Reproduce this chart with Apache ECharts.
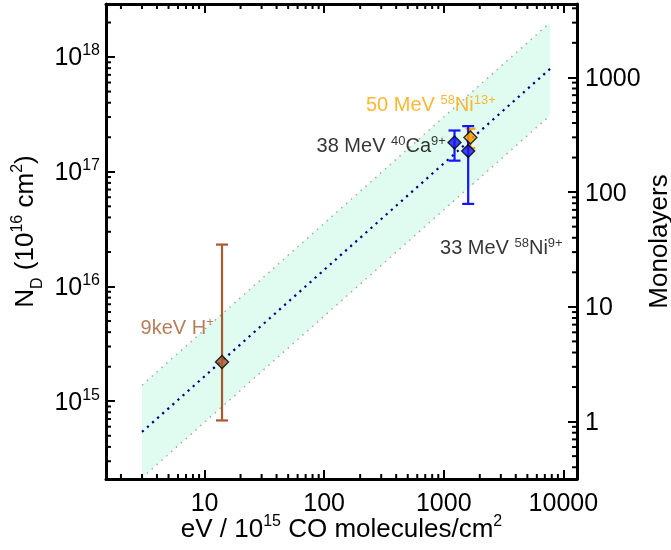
<!DOCTYPE html>
<html><head><meta charset="utf-8">
<script src="https://cdn.jsdelivr.net/npm/echarts@6/dist/echarts.min.js"></script>
<style>html,body{margin:0;padding:0;background:#fff}#c{width:671px;height:550px}</style>
</head><body><div id="c"></div>
<script>
// ---- data ----
const xTickLabels = ['10', '100', '1000', '10000'];
const yTickExponents = [15, 16, 17, 18];
const mlTickLabels = ['1', '10', '100', '1000'];

const fitX = [3, 7750];
const fitY = [5.4e14, 7.9e17];
const bandUpper = [1.38e15, 2.0e18];
const bandLower = [2.15e14, 3.1e17];

const ptName = ['9keV H+', '38 MeV 40Ca9+', '33 MeV 58Ni9+', '50 MeV 58Ni13+'];
const ptX  = [14, 1230, 1600, 1670];
const ptY  = [2.2e15, 1.8e17, 1.52e17, 1.99e17];
const ptLo = [6.8e14, 1.25e17, 5.25e16, 1.61e17];
const ptHi = [2.32e16, 2.29e17, 2.5e17, 2.37e17];

const labelText = ['{b|9keV H}{s|+}', '{b|38 MeV }{s|40}{b|Ca}{s|9+}', '{b|33 MeV }{s|58}{b|Ni}{s|9+}', '{b|50 MeV }{s|58}{b|Ni}{s|13+}'];
const labelAnchorX = [5.9, 300, 3030, 780];
const labelAnchorY = [4.4e15, 1.69e17, 2.18e16, 3.83e17];

// ---- styles ----
const ptColor = ['#a65a2e', '#1414ff', '#1414ff', '#ffa500'];
const labelColor = ['#a65a2e', '#000000', '#000000', '#ffa500'];
const drawOrder = [0, 3, 1, 2];

const X_MIN = 1.5, X_MAX = 13000, Y_MIN = 2.1e14, Y_MAX = 2.9e18, ML_MIN = 0.316, ML_MAX = 4360;
const FONT = '"Liberation Sans", Arial, sans-serif';

function minorVals(min, max) {
  const out = [];
  for (let e = Math.floor(Math.log10(min)) - 1; e <= Math.ceil(Math.log10(max)); e++) {
    for (let k = 2; k <= 9; k++) {
      const v = k * Math.pow(10, e);
      if (v > min * 1.0001 && v < max * 0.9999) out.push(v);
    }
  }
  return out;
}
const isDecade = v => Math.abs(Math.log10(v) - Math.round(Math.log10(v))) < 1e-6;

const richAxis = {
  b: { fontSize: 25, verticalAlign: 'top', padding: [3, 0, 0, 0], fontFamily: FONT, color: '#000' },
  s: { fontSize: 16, verticalAlign: 'top', fontFamily: FONT, color: '#000' }
};
const richTitle = {
  b: { fontSize: 26, verticalAlign: 'top', padding: [3, 0, 0, 0], fontFamily: FONT, color: '#000' },
  n: { fontSize: 26, verticalAlign: 'top', padding: [3, 0, 0, 20], fontFamily: FONT, color: '#000' },
  s: { fontSize: 16, verticalAlign: 'top', fontFamily: FONT, color: '#000' },
  d: { fontSize: 16, verticalAlign: 'top', padding: [20, 0, 0, 0], fontFamily: FONT, color: '#000' }
};

const MINOR = 5, MAJOR = 9, TW = 2;
const tickStyle = { stroke: '#000', lineWidth: TW };

const chart = echarts.init(document.getElementById('c'));

const option = {
  animation: false,
  backgroundColor: '#fff',
  grid: { left: 106, right: 94, top: 4, bottom: 71, outerBoundsMode: 'none' },
  xAxis: [
    {
      type: 'log', logBase: 10, min: X_MIN, max: X_MAX, position: 'bottom',
      axisLine: { show: true, lineStyle: { color: '#000', width: 3 } },
      axisTick: { show: true, inside: true, length: MAJOR, lineStyle: { color: '#000', width: TW } },
      splitLine: { show: false },
      axisLabel: {
        margin: 10, showMinLabel: false, showMaxLabel: false, color: '#000',
        formatter: v => isDecade(v) ? '{b|' + xTickLabels[Math.round(Math.log10(v)) - 1] + '}' : '',
        rich: richAxis
      },
      name: '{b|eV / 10}{s|15}{b| CO molecules/cm}{s|2}',
      nameLocation: 'middle', nameGap: 35, nameMoveOverlap: false,
      nameTextStyle: { rich: richTitle, color: '#000' }
    },
    {
      type: 'log', logBase: 10, min: X_MIN, max: X_MAX, position: 'top',
      axisLine: { show: true, lineStyle: { color: '#000', width: 3 } },
      axisTick: { show: true, inside: true, length: MAJOR, lineStyle: { color: '#000', width: TW } },
      splitLine: { show: false }, axisLabel: { show: false }
    }
  ],
  yAxis: [
    {
      type: 'log', logBase: 10, min: Y_MIN, max: Y_MAX, position: 'left',
      axisLine: { show: true, lineStyle: { color: '#000', width: 3 } },
      axisTick: { show: true, inside: true, length: MAJOR, lineStyle: { color: '#000', width: TW } },
      splitLine: { show: false },
      axisLabel: {
        margin: 6, showMinLabel: false, showMaxLabel: false, color: '#000',
        formatter: v => {
          if (!isDecade(v)) return '';
          const e = Math.round(Math.log10(v));
          return yTickExponents.indexOf(e) >= 0 ? '{b|10}{s|' + e + '}' : '';
        },
        rich: richAxis
      },
      name: '{n|N}{d|D}{b| (10}{s|16}{b| cm}{s|2}{b|)}',
      nameLocation: 'middle', nameRotate: 90, nameGap: 60, nameMoveOverlap: false,
      nameTextStyle: { rich: richTitle, color: '#000' }
    },
    {
      type: 'log', logBase: 10, min: ML_MIN, max: ML_MAX, position: 'right',
      axisLine: { show: true, lineStyle: { color: '#000', width: 3 } },
      axisTick: { show: true, inside: true, length: MAJOR, lineStyle: { color: '#000', width: TW } },
      splitLine: { show: false },
      axisLabel: {
        margin: 8, showMinLabel: false, showMaxLabel: false, color: '#000',
        formatter: v => {
          if (!isDecade(v)) return '';
          const e = Math.round(Math.log10(v));
          return (e >= 0 && e < mlTickLabels.length) ? '{b|' + mlTickLabels[e] + '}' : '';
        },
        rich: richAxis
      },
      name: '{b|Monolayers}',
      nameLocation: 'middle', nameRotate: 90, nameGap: 67, nameMoveOverlap: false,
      nameTextStyle: { rich: richTitle, color: '#000' }
    }
  ],
  series: [
    {
      type: 'custom', xAxisIndex: 0, yAxisIndex: 0, z: 1, silent: true,
      data: [[fitX[0], fitY[0]]],
      renderItem: (params, api) => {
        const pts = [];
        for (let i = 0; i < fitX.length; i++) pts.push(api.coord([fitX[i], bandUpper[i]]));
        for (let i = fitX.length - 1; i >= 0; i--) pts.push(api.coord([fitX[i], bandLower[i]]));
        return { type: 'polygon', shape: { points: pts }, style: { fill: '#e0fbf0' } };
      }
    },
    {
      type: 'line', xAxisIndex: 0, yAxisIndex: 0, z: 2, silent: true, showSymbol: false, symbol: 'none',
      data: fitX.map((x, i) => [x, bandUpper[i]]),
      lineStyle: { color: '#a8a8a8', width: 1.5, type: [1.5, 5] }
    },
    {
      type: 'line', xAxisIndex: 0, yAxisIndex: 0, z: 2, silent: true, showSymbol: false, symbol: 'none',
      data: fitX.map((x, i) => [x, bandLower[i]]),
      lineStyle: { color: '#a8a8a8', width: 1.5, type: [1.5, 5] }
    },
    {
      type: 'line', xAxisIndex: 0, yAxisIndex: 0, z: 3, silent: true, showSymbol: false, symbol: 'none',
      data: fitX.map((x, i) => [x, fitY[i]]),
      lineStyle: { color: '#000080', width: 2.2, type: [2.2, 4.6] }
    },
    {
      type: 'custom', xAxisIndex: 0, yAxisIndex: 0, z: 4, silent: true,
      data: drawOrder.map(i => [ptX[i], ptLo[i], ptHi[i], i]),
      renderItem: (params, api) => {
        const i = api.value(3);
        const lo = api.coord([api.value(0), api.value(1)]);
        const hi = api.coord([api.value(0), api.value(2)]);
        const hw = i === 3 ? 5 : 6;
        const st = { stroke: ptColor[i], lineWidth: 2.2 };
        return {
          type: 'group', children: [
            { type: 'line', shape: { x1: lo[0], y1: lo[1], x2: hi[0], y2: hi[1] }, style: st },
            { type: 'line', shape: { x1: lo[0] - hw, y1: lo[1], x2: lo[0] + hw, y2: lo[1] }, style: st },
            { type: 'line', shape: { x1: hi[0] - hw, y1: hi[1], x2: hi[0] + hw, y2: hi[1] }, style: st }
          ]
        };
      }
    },
    {
      type: 'scatter', xAxisIndex: 0, yAxisIndex: 0, z: 5, silent: true,
      symbol: 'diamond', symbolSize: 13,
      data: drawOrder.map(i => ({ name: ptName[i], value: [ptX[i], ptY[i]], itemStyle: { color: ptColor[i], borderColor: '#000', borderWidth: 1.4 } }))
    },
    {
      type: 'scatter', xAxisIndex: 0, yAxisIndex: 0, z: 6, silent: true, symbolSize: 0,
      data: labelText.map((t, i) => ({
        value: [labelAnchorX[i], labelAnchorY[i]],
        label: {
          show: true, position: [0, 0], align: 'center', verticalAlign: 'middle',
          formatter: t, color: labelColor[i], textBorderWidth: 0,
          rich: {
            b: { fontSize: 20, verticalAlign: 'top', padding: [2, 0, 0, 0], fontFamily: FONT, color: labelColor[i] },
            s: { fontSize: 13, verticalAlign: 'top', fontFamily: FONT, color: labelColor[i] }
          }
        }
      }))
    },
    {
      type: 'custom', xAxisIndex: 0, yAxisIndex: 0, z: 7, silent: true,
      data: [[X_MIN, Y_MIN]],
      renderItem: (params, api) => {
        const ch = [];
        minorVals(X_MIN, X_MAX).forEach(v => {
          const b = api.coord([v, Y_MIN]), t = api.coord([v, Y_MAX]);
          ch.push({ type: 'line', shape: { x1: b[0], y1: b[1], x2: b[0], y2: b[1] - MINOR }, style: tickStyle });
          ch.push({ type: 'line', shape: { x1: t[0], y1: t[1], x2: t[0], y2: t[1] + MINOR }, style: tickStyle });
        });
        minorVals(Y_MIN, Y_MAX).forEach(v => {
          const l = api.coord([X_MIN, v]);
          ch.push({ type: 'line', shape: { x1: l[0], y1: l[1], x2: l[0] + MINOR, y2: l[1] }, style: tickStyle });
        });
        return { type: 'group', children: ch };
      }
    },
    {
      type: 'custom', xAxisIndex: 0, yAxisIndex: 1, z: 7, silent: true,
      data: [[X_MAX, 1]],
      renderItem: (params, api) => {
        const ch = [];
        minorVals(ML_MIN, ML_MAX).forEach(v => {
          const r = api.coord([X_MAX, v]);
          ch.push({ type: 'line', shape: { x1: r[0], y1: r[1], x2: r[0] - MINOR, y2: r[1] }, style: tickStyle });
        });
        return { type: 'group', children: ch };
      }
    }
  ]
};
chart.setOption(option);
</script>
</body></html>
